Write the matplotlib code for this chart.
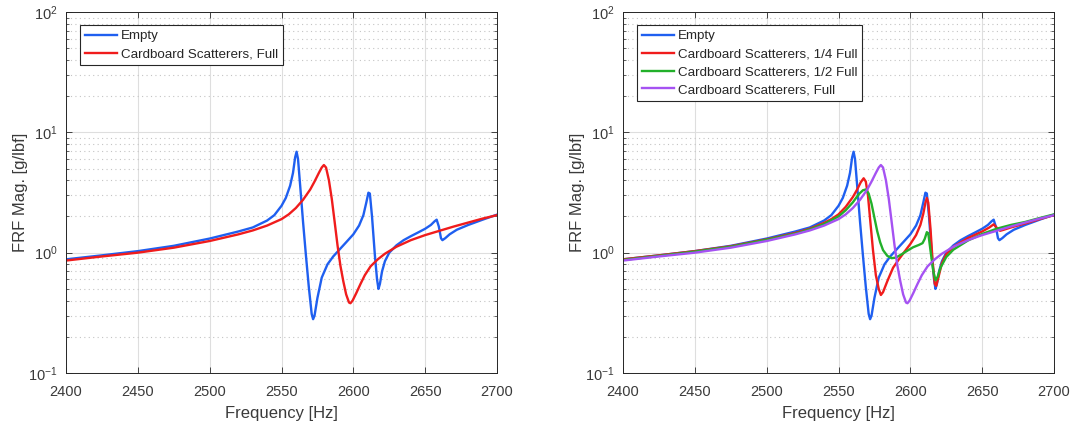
import matplotlib
matplotlib.use('Agg')
import matplotlib.pyplot as plt
from matplotlib.ticker import LogLocator, NullFormatter, MultipleLocator

plt.rcParams['font.family'] = ['Liberation Sans', 'DejaVu Sans']
plt.rcParams['mathtext.fontset'] = 'custom'
plt.rcParams['mathtext.rm'] = 'Liberation Sans'

# Empty
freq_empty = [2400, 2425, 2450, 2475, 2500, 2520, 2530, 2540, 2545, 2550, 2553, 2556, 2558,
              2559.5, 2560.5, 2561.5, 2563, 2565, 2567, 2569, 2571, 2572, 2573, 2575, 2578,
              2582, 2586, 2590, 2595, 2600, 2604, 2607, 2609, 2610.5, 2611.5, 2613, 2615,
              2616.5, 2617.5, 2618.5, 2620, 2622, 2625, 2630, 2635, 2640, 2645, 2650, 2654,
              2656.5, 2658, 2659.5, 2661, 2662, 2664, 2667, 2672, 2680, 2690, 2700]
mag_empty = [0.88, 0.95, 1.03, 1.14, 1.31, 1.50, 1.62, 1.85, 2.05, 2.45, 2.85, 3.6, 4.6,
             6.2, 6.9, 6.0, 3.6, 1.8, 0.95, 0.52, 0.31, 0.28, 0.30, 0.42, 0.62,
             0.80, 0.93, 1.05, 1.22, 1.42, 1.68, 2.05, 2.6, 3.15, 3.1, 2.0, 0.95,
             0.60, 0.50, 0.55, 0.70, 0.85, 1.00, 1.15, 1.27, 1.37, 1.47, 1.58, 1.70,
             1.82, 1.88, 1.65, 1.32, 1.27, 1.32, 1.42, 1.55, 1.70, 1.88, 2.07]

# Cardboard scatterers, 1/4 full
freq_quarter = [2400, 2425, 2450, 2475, 2500, 2520, 2530, 2540, 2545, 2550, 2555, 2560, 2563,
                2565.5, 2567.5, 2569, 2570.5, 2572, 2574, 2576, 2578, 2579.5, 2581, 2584,
                2588, 2592, 2596, 2600, 2604, 2607, 2609, 2610.5, 2611.5, 2612.5, 2614,
                2615.5, 2617, 2618, 2619.5, 2622, 2625, 2630, 2640, 2650, 2655, 2658, 2660,
                2662.5, 2665, 2670, 2680, 2690, 2700]
mag_quarter = [0.88, 0.95, 1.03, 1.13, 1.29, 1.46, 1.58, 1.77, 1.90, 2.08, 2.40, 2.90, 3.35,
               3.85, 4.15, 3.9, 3.0, 1.9, 1.05, 0.65, 0.50, 0.445, 0.47, 0.58,
               0.75, 0.88, 1.02, 1.18, 1.40, 1.70, 2.1, 2.6, 2.85, 2.6, 1.6,
               0.85, 0.55, 0.53, 0.62, 0.82, 0.97, 1.12, 1.32, 1.50, 1.62, 1.72, 1.62,
               1.52, 1.55, 1.62, 1.75, 1.90, 2.05]

# Cardboard scatterers, 1/2 full
freq_half = [2400, 2425, 2450, 2475, 2500, 2520, 2530, 2540, 2550, 2555, 2560, 2564, 2567,
             2569, 2571, 2573, 2575, 2577, 2579, 2581, 2584, 2587, 2590, 2594, 2598, 2602,
             2606, 2608.5, 2610, 2611.5, 2612.5, 2614, 2616, 2617.5, 2619, 2621, 2625, 2630,
             2640, 2650, 2660, 2670, 2680, 2690, 2700]
mag_half = [0.87, 0.94, 1.02, 1.12, 1.28, 1.44, 1.56, 1.73, 2.00, 2.25, 2.62, 3.05, 3.30,
            3.35, 3.1, 2.55, 1.95, 1.50, 1.22, 1.05, 0.94, 0.90, 0.91, 0.97, 1.04, 1.11,
            1.16, 1.20, 1.30, 1.48, 1.45, 1.05, 0.70, 0.59, 0.63, 0.75, 0.92, 1.06,
            1.26, 1.43, 1.58, 1.70, 1.80, 1.94, 2.08]

# Cardboard scatterers, full
freq_full = [2400, 2425, 2450, 2475, 2500, 2520, 2530, 2540, 2550, 2555, 2560, 2565, 2570,
             2573, 2576, 2578, 2579.5, 2581, 2583, 2585, 2587, 2589, 2591, 2593, 2595, 2597,
             2598, 2599.5, 2602, 2605, 2608, 2612, 2617, 2622, 2630, 2640, 2650, 2660, 2670,
             2680, 2690, 2700]
mag_full = [0.86, 0.93, 1.00, 1.10, 1.25, 1.42, 1.53, 1.68, 1.90, 2.08, 2.35, 2.75, 3.35,
            3.9, 4.6, 5.1, 5.35, 5.1, 4.0, 2.8, 1.8, 1.15, 0.78, 0.58, 0.45, 0.385,
            0.38, 0.40, 0.46, 0.55, 0.65, 0.77, 0.88, 0.98, 1.12, 1.27, 1.40, 1.52, 1.65,
            1.78, 1.92, 2.05]

c_blue = '#1f5ff0'
c_red = '#f01c1c'
c_green = '#22b02a'
c_purple = '#a552f2'
txt_col = '#3a3a3a'

fig = plt.figure(figsize=(10.75, 4.25), dpi=100)
ax1 = fig.add_axes([66 / 1075, 52 / 425, 431 / 1075, 361 / 425])
ax2 = fig.add_axes([623 / 1075, 52 / 425, 431 / 1075, 361 / 425])

lw = 1.7
ax1.plot(freq_empty, mag_empty, color=c_blue, lw=lw, label='Empty')
ax1.plot(freq_full, mag_full, color=c_red, lw=lw, label='Cardboard Scatterers, Full')

ax2.plot(freq_empty, mag_empty, color=c_blue, lw=lw, label='Empty')
ax2.plot(freq_quarter, mag_quarter, color=c_red, lw=lw, label='Cardboard Scatterers, 1/4 Full')
ax2.plot(freq_half, mag_half, color=c_green, lw=lw, label='Cardboard Scatterers, 1/2 Full')
ax2.plot(freq_full, mag_full, color=c_purple, lw=lw, label='Cardboard Scatterers, Full')

for ax in (ax1, ax2):
    ax.set_yscale('log')
    ax.set_xlim(2400, 2700)
    ax.set_ylim(0.1, 100)
    ax.xaxis.set_major_locator(MultipleLocator(50))
    ax.yaxis.set_major_locator(LogLocator(base=10, numticks=10))
    ax.yaxis.set_minor_locator(LogLocator(base=10, subs=range(2, 10), numticks=10))
    ax.yaxis.set_minor_formatter(NullFormatter())
    ax.grid(True, which='major', color='#dedede', lw=0.8, ls='-')
    ax.grid(True, which='minor', axis='y', color='#c4c4c4', lw=0.8, ls=(0, (1, 3)))
    ax.set_axisbelow(True)
    ax.tick_params(which='both', direction='in', top=True, right=True,
                   colors='#262626', labelcolor=txt_col, labelsize=10.5)
    ax.tick_params(which='major', length=4, width=0.6)
    ax.tick_params(which='minor', length=2, width=0.5)
    ax.tick_params(axis='x', which='major', pad=9)
    ax.tick_params(axis='y', which='major', pad=6)
    for s in ax.spines.values():
        s.set_color('#262626')
        s.set_linewidth(0.7)
    ax.set_xlabel('Frequency [Hz]', fontsize=12, color=txt_col, labelpad=5)
    ax.set_ylabel('FRF Mag. [g/lbf]', fontsize=12, color=txt_col, labelpad=0)
    leg = ax.legend(loc='upper left', bbox_to_anchor=(0.033, 0.963), fontsize=9.6,
                    frameon=True, fancybox=False, edgecolor='#262626', framealpha=1,
                    handlelength=2.4, handletextpad=0.3, borderpad=0.35, labelspacing=0.42,
                    borderaxespad=0)
    leg.get_frame().set_linewidth(0.8)
    for t in leg.get_texts():
        t.set_color('#262626')

plt.savefig('out.png', dpi=100)
